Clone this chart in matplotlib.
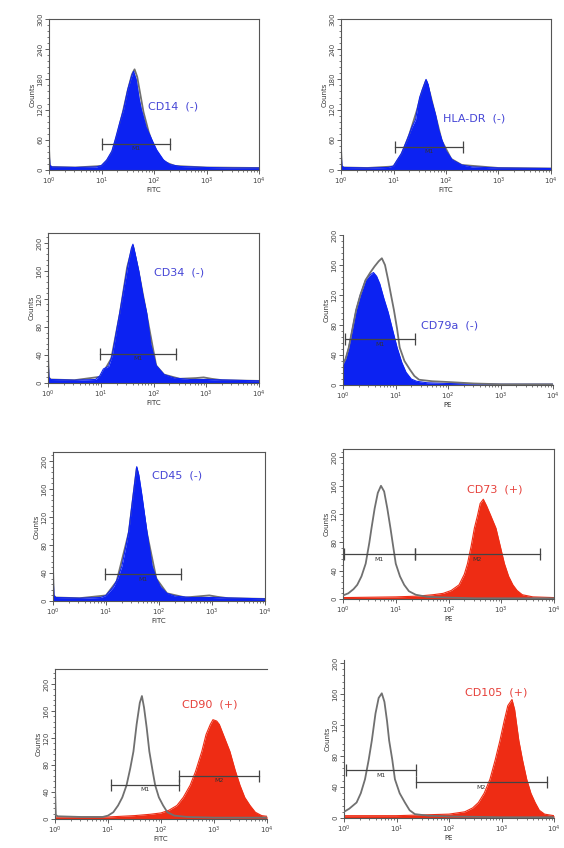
import numpy as np
import matplotlib
matplotlib.use("Agg")
import matplotlib.pyplot as plt
from matplotlib.ticker import MultipleLocator, LogLocator

# ---- data: log10 fluorescence positions and counts ----
names = ["CD14  (-)", "HLA-DR  (-)", "CD34  (-)", "CD79a  (-)",
         "CD45  (-)", "CD73  (+)", "CD90  (+)", "CD105  (+)"]
channels = ["FITC", "FITC", "FITC", "PE", "FITC", "PE", "FITC", "PE"]
positive = [False, False, False, False, False, True, True, True]

# stained sample (filled)
cd14_x = [0, 0.015, 0.05, 0.5, 0.9, 1.0, 1.1, 1.2, 1.26, 1.35, 1.42, 1.5, 1.57, 1.61,
          1.66, 1.72, 1.76, 1.85, 1.96, 2.05, 2.18, 2.3, 2.5, 3.0, 3.5, 4.0]
cd14_y = [46, 10, 6, 5, 6, 9, 20, 38, 60, 95, 120, 160, 185, 196,
          180, 140, 120, 85, 60, 40, 20, 11, 7, 5, 4, 4]
hla_x = [0, 0.015, 0.05, 0.5, 0.9, 1.0, 1.07, 1.15, 1.26, 1.35, 1.42, 1.46, 1.5, 1.55,
         1.62, 1.66, 1.72, 1.8, 1.86, 1.92, 2.0, 2.12, 2.3, 2.5, 3.0, 4.0]
hla_y = [45, 8, 5, 4, 5, 8, 20, 33, 60, 85, 100, 125, 145, 160,
         180, 170, 140, 110, 80, 60, 38, 20, 10, 6, 4, 3]
cd34_x = [0, 0.015, 0.05, 0.5, 0.9, 0.98, 1.05, 1.15, 1.22, 1.3, 1.36, 1.45, 1.52, 1.58,
          1.61, 1.65, 1.72, 1.8, 1.87, 1.95, 2.05, 2.2, 2.4, 2.7, 3.0, 3.5, 4.0]
cd34_y = [45, 8, 5, 4, 5, 10, 20, 24, 40, 75, 100, 140, 170, 192,
          198, 185, 160, 125, 100, 55, 25, 12, 7, 5, 5, 4, 3]
cd79_x = [0, 0.05, 0.11, 0.18, 0.25, 0.33, 0.43, 0.5, 0.58, 0.64, 0.7, 0.78, 0.86, 0.95,
          1.03, 1.12, 1.2, 1.3, 1.4, 1.6, 2.0, 3.0, 4.0]
cd79_y = [28, 35, 50, 75, 100, 120, 140, 146, 150, 145, 135, 115, 97, 72,
          50, 30, 17, 8, 5, 3, 2, 1, 1]
cd45_x = [0, 0.015, 0.05, 0.5, 0.9, 1.0, 1.14, 1.22, 1.3, 1.38, 1.43, 1.51, 1.58, 1.62,
          1.68, 1.77, 1.82, 1.87, 1.95, 2.03, 2.15, 2.3, 2.6, 3.0, 3.5, 4.0]
cd45_y = [48, 8, 5, 4, 5, 8, 20, 32, 50, 80, 100, 150, 192, 180,
          150, 100, 75, 50, 32, 20, 11, 7, 5, 5, 4, 3]
cd73_x = [0, 1.0, 1.4, 1.7, 1.9, 2.05, 2.2, 2.3, 2.36, 2.43, 2.49, 2.55, 2.6, 2.66,
          2.72, 2.8, 2.9, 2.98, 3.06, 3.14, 3.22, 3.3, 3.4, 3.6, 4.0]
cd73_y = [2, 3, 4, 6, 8, 12, 20, 35, 50, 75, 100, 118, 135, 141,
          132, 118, 100, 75, 50, 32, 20, 12, 6, 3, 2]
cd90_x = [0, 1.0, 1.5, 1.8, 2.0, 2.15, 2.3, 2.42, 2.55, 2.65, 2.77, 2.85, 2.93, 2.98,
          3.05, 3.1, 3.2, 3.3, 3.4, 3.49, 3.58, 3.68, 3.78, 3.9, 4.0]
cd90_y = [3, 3, 5, 7, 9, 13, 20, 32, 50, 70, 100, 125, 140, 147,
          145, 140, 120, 100, 72, 50, 32, 20, 10, 5, 4]
cd105_x = [0, 1.0, 1.5, 2.0, 2.3, 2.45, 2.56, 2.67, 2.78, 2.88, 2.97, 3.05, 3.12, 3.2,
           3.25, 3.33, 3.4, 3.48, 3.56, 3.64, 3.72, 3.82, 4.0]
cd105_y = [3, 3, 4, 5, 8, 13, 20, 32, 50, 75, 100, 125, 145, 153,
           140, 100, 75, 50, 32, 20, 10, 5, 3]

# isotype control (grey outline)
iso14_x = [0, 0.015, 0.05, 0.5, 1.0, 1.1, 1.2, 1.3, 1.4, 1.5, 1.58, 1.63, 1.68, 1.74,
           1.8, 1.9, 2.0, 2.1, 2.2, 2.4, 3.0, 4.0]
iso14_y = [44, 9, 6, 5, 8, 18, 35, 70, 112, 158, 190, 200, 185, 150,
           115, 75, 45, 28, 16, 8, 5, 4]
isohla_x = [0, 0.015, 0.05, 0.5, 1.0, 1.15, 1.3, 1.45, 1.55, 1.62, 1.7, 1.8, 1.92, 2.1,
            2.3, 3.0, 4.0]
isohla_y = [44, 8, 5, 4, 7, 30, 70, 120, 158, 178, 150, 108, 58, 22,
            10, 4, 3]
iso34_x = [0, 0.015, 0.05, 0.5, 1.0, 1.2, 1.36, 1.5, 1.61, 1.72, 1.87, 2.05, 2.2, 2.5,
           2.8, 2.95, 3.1, 3.3, 4.0]
iso34_y = [44, 8, 5, 4, 9, 35, 98, 165, 196, 158, 98, 25, 12, 6,
           7, 8, 6, 4, 3]
iso79_x = [0, 0.05, 0.11, 0.18, 0.25, 0.33, 0.43, 0.52, 0.6, 0.68, 0.74, 0.8, 0.86, 0.92,
           0.97, 1.03, 1.08, 1.17, 1.28, 1.36, 1.45, 1.7, 2.0, 2.5, 3.0, 4.0]
iso79_y = [28, 35, 50, 75, 100, 120, 140, 150, 158, 165, 169, 160, 140, 118,
           100, 75, 50, 32, 20, 12, 7, 5, 4, 2, 1, 1]
iso45_x = [0, 0.015, 0.05, 0.5, 1.0, 1.2, 1.43, 1.58, 1.77, 1.95, 2.15, 2.5, 2.8, 2.95,
           3.1, 3.3, 4.0]
iso45_y = [47, 8, 5, 4, 8, 28, 98, 190, 98, 32, 11, 5, 7, 8,
           6, 4, 3]
iso73_x = [0, 0.1, 0.2, 0.27, 0.35, 0.43, 0.5, 0.54, 0.6, 0.66, 0.72, 0.78, 0.84, 0.9,
           0.95, 1.0, 1.08, 1.16, 1.25, 1.38, 1.6, 2.0, 2.5, 3.0, 4.0]
iso73_y = [5, 8, 14, 20, 32, 50, 80, 100, 128, 150, 160, 152, 128, 100,
           75, 50, 32, 20, 11, 6, 3, 2, 1, 1, 1]
iso90_x = [0, 0.015, 0.05, 0.5, 0.9, 1.0, 1.1, 1.19, 1.27, 1.35, 1.42, 1.48, 1.54, 1.6,
           1.64, 1.68, 1.73, 1.78, 1.84, 1.89, 1.96, 2.04, 2.12, 2.25, 2.5, 3.0, 4.0]
iso90_y = [45, 6, 4, 3, 3, 5, 10, 20, 32, 50, 75, 100, 140, 172,
           182, 165, 135, 100, 72, 50, 32, 20, 10, 5, 3, 2, 2]
iso105_x = [0, 0.1, 0.24, 0.32, 0.4, 0.47, 0.53, 0.6, 0.66, 0.72, 0.77, 0.82, 0.86, 0.92,
            0.97, 1.06, 1.16, 1.25, 1.35, 1.6, 2.0, 3.0, 4.0]
iso105_y = [8, 12, 20, 32, 50, 75, 100, 135, 155, 161, 150, 125, 100, 75,
            50, 32, 20, 10, 5, 3, 2, 1, 1]

fill_x = [cd14_x, hla_x, cd34_x, cd79_x, cd45_x, cd73_x, cd90_x, cd105_x]
fill_y = [cd14_y, hla_y, cd34_y, cd79_y, cd45_y, cd73_y, cd90_y, cd105_y]
iso_x = [iso14_x, isohla_x, iso34_x, iso79_x, iso45_x, iso73_x, iso90_x, iso105_x]
iso_y = [iso14_y, isohla_y, iso34_y, iso79_y, iso45_y, iso73_y, iso90_y, iso105_y]

# marker gates: (label, start decade, end decade, count level)
gates = [
    [("M1", 1.0, 2.3, 52)],
    [("M1", 1.03, 2.33, 46)],
    [("M1", 0.98, 2.42, 42)],
    [("M1", 0.04, 1.37, 62)],
    [("M1", 0.98, 2.42, 39)],
    [("M1", 0.02, 1.36, 64), ("M2", 1.36, 3.74, 64)],
    [("M1", 1.05, 2.34, 51), ("M2", 2.34, 3.84, 64)],
    [("M1", 0.03, 1.37, 62), ("M2", 1.37, 3.87, 47)],
]
label_pos = [(1.89, 126), (1.95, 103), (2.0, 158), (1.49, 79),
             (1.87, 180), (2.35, 155), (2.39, 169), (2.3, 162)]

# ---- layout (pixel boxes: left, top, right, bottom) ----
W, H = 564, 848
boxes = [(49, 19, 259, 170), (341, 19, 551, 170),
         (48, 233, 259, 383), (343, 235, 553, 385),
         (53, 452, 265, 601), (343, 449, 554, 599),
         (55, 669, 267, 819), (344, 660, 554, 818)]
ytop = [300, 300, 214, 200, 213, 212, 222, 204]
ystep = [60, 60, 40, 40, 40, 40, 40, 40]
hide_spines = [[], [], [], ["top", "right"], [], [], ["right"], ["top", "right"]]

BLUE, BLUE_TXT = "#0c22f2", "#4646d6"
RED, RED_TXT = "#ee2c14", "#e6403a"
GREY = "#707070"

fig = plt.figure(figsize=(W / 100, H / 100), dpi=100)
fig.patch.set_facecolor("white")

for i in range(8):
    l, t, r, b = boxes[i]
    ax = fig.add_axes([l / W, 1 - b / H, (r - l) / W, (b - t) / H])
    fc = RED if positive[i] else BLUE
    tc = RED_TXT if positive[i] else BLUE_TXT

    xi = 10 ** np.array(iso_x[i])
    xf = 10 ** np.array(fill_x[i])
    ax.fill_between(xf, 0, fill_y[i], color=fc, lw=0, zorder=2)
    ax.plot(xf, fill_y[i], color=fc, lw=0.8, zorder=2)
    ax.plot(xi, iso_y[i], color=GREY, lw=1.3, zorder=3 if positive[i] or i == 3 else 1)

    for lab, g0, g1, lvl in gates[i]:
        ax.plot([10 ** g0, 10 ** g1], [lvl, lvl], color="#444444", lw=0.9,
                marker="|", ms=9, mew=0.9, zorder=4)
        ax.text(10 ** ((g0 + g1) / 2), lvl - 4, lab, fontsize=4.5, color="#333333",
                ha="center", va="top", zorder=5)

    lx, ly = label_pos[i]
    ax.text(10 ** lx, ly, names[i], color=tc, fontsize=8, ha="left", va="center", zorder=5)

    ax.set_xscale("log")
    ax.set_xlim(1, 1e4)
    ax.set_ylim(0, ytop[i])
    ax.xaxis.set_major_locator(LogLocator(base=10, numticks=6))
    ax.xaxis.set_minor_locator(LogLocator(base=10, subs=np.arange(2, 10), numticks=12))
    ax.yaxis.set_major_locator(MultipleLocator(ystep[i]))
    ax.yaxis.set_minor_locator(MultipleLocator(ystep[i] / 5))
    ax.tick_params(axis="both", which="major", labelsize=5, length=3, width=0.6,
                   pad=1, colors="#444444")
    ax.tick_params(axis="both", which="minor", length=1.5, width=0.5, colors="#444444")
    for lbl in ax.get_yticklabels():
        lbl.set_rotation(90)
        lbl.set_va("center")
    ax.set_ylabel("Counts", fontsize=5, labelpad=1, color="#333333")
    ax.set_xlabel(channels[i], fontsize=5, labelpad=0, color="#333333")
    for s in ax.spines.values():
        s.set_color("#555555")
        s.set_linewidth(0.8)
    for s in hide_spines[i]:
        ax.spines[s].set_visible(False)

fig.savefig("out.png", dpi=100)
